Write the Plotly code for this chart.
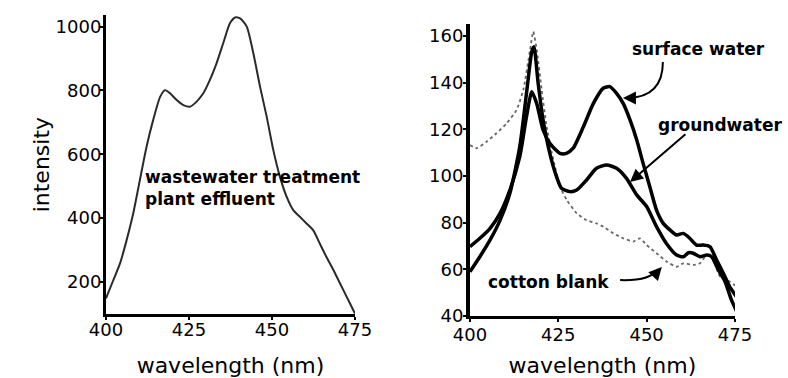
import plotly.graph_objects as go

# ---- wastewater treatment plant effluent (left panel) ----
wwtp_nm = [400, 402.2, 404.2, 406.2, 408.2, 410.2, 412.2, 414.2, 416.3, 417.8, 419.3, 421.3,
           423.3, 425.3, 427.3, 429.3, 431.3, 433.3, 435.3, 437.3, 438.9, 440.4, 442.4, 444.4,
           446.4, 448.4, 450.4, 452.4, 454.4, 456.4, 458.4, 460.4, 462.4, 464.4, 466.4, 468.5,
           470.5, 472.5, 474.5, 475]
wwtp_int = [148, 205, 257, 330, 414, 519, 623, 707, 780, 801, 791, 770,
            754, 749, 765, 791, 833, 885, 948, 1010, 1029, 1026, 1000, 916,
            812, 718, 613, 529, 467, 425, 404, 383, 362, 320, 278, 237,
            195, 153, 111, 100]

# ---- surface water (right panel) ----
sw_nm = [400, 402.8, 405.7, 408.5, 411.3, 414.1, 416.0, 417.5, 418.9, 420.7, 422.6, 425.5,
         427.3, 429.2, 432.1, 434.9, 437.7, 439.6, 441.5, 443.4, 445.3, 447.2, 449.0, 450.9,
         452.8, 454.7, 456.6, 458.5, 460.4, 462.2, 464.1, 466.0, 467.9, 469.8, 471.7, 473.5, 475.4]
sw_int = [69.7, 73.3, 77.6, 84.0, 94.0, 108.3, 125.4, 136.1, 131.0, 119.7, 114.0, 109.7,
          109.7, 111.9, 121.1, 131.0, 137.6, 138.3, 135.4, 131.0, 124.0, 115.4, 105.4, 95.4,
          85.4, 79.7, 76.9, 74.7, 75.4, 73.3, 70.4, 70.4, 69.7, 64.0, 58.3, 52.6, 48.3]

# ---- groundwater ----
gw_nm = [400, 402.8, 405.7, 408.5, 411.3, 414.1, 416.0, 417.5, 418.1, 419.3, 420.7, 422.6,
         424.5, 425.9, 428.3, 430.2, 433.0, 435.8, 438.7, 441.5, 444.3, 447.2, 450.0, 452.8,
         455.6, 458.5, 460.4, 461.8, 463.2, 465.1, 467.0, 468.4, 470.3, 472.2, 474.0, 475.5]
gw_int = [59.0, 65.4, 72.6, 81.0, 92.6, 112.6, 135.4, 153.3, 155.4, 139.7, 124.0, 109.7,
          99.7, 94.7, 93.3, 94.0, 98.3, 103.3, 104.7, 103.3, 99.0, 91.9, 86.9, 78.3,
          71.1, 66.1, 65.4, 67.1, 66.9, 65.4, 66.1, 65.4, 59.7, 54.7, 46.9, 41.9]

# ---- cotton blank ----
cb_nm = [400, 401.9, 404.7, 407.5, 410.4, 413.2, 415.1, 417.0, 417.9, 418.9, 420.3, 421.7,
         423.6, 425.5, 427.4, 430.2, 433.0, 435.8, 437.7, 440.6, 443.4, 446.2, 448.1, 450.0,
         452.8, 455.7, 458.5, 460.4, 463.2, 465.1, 467.0, 468.4, 470.8, 473.6, 476.0]
cb_int = [113.3, 111.9, 114.7, 118.3, 122.6, 128.3, 136.9, 154.0, 161.9, 154.0, 136.9, 121.1,
          106.9, 95.4, 89.7, 84.0, 81.1, 79.7, 78.3, 75.4, 73.3, 71.9, 73.3, 70.4,
          66.9, 63.3, 61.1, 62.6, 61.9, 62.6, 66.1, 65.4, 56.9, 54.7, 51.9]

x_ticks = [400, 425, 450, 475]
left_y_ticks = [200, 400, 600, 800, 1000]
right_y_ticks = [40, 60, 80, 100, 120, 140, 160]

FONT = "DejaVu Sans"

fig = go.Figure()
fig.add_trace(go.Scatter(x=wwtp_nm, y=wwtp_int, mode="lines", xaxis="x", yaxis="y",
                         line=dict(color="#2a2a2a", width=2, shape="spline", smoothing=0.6)))
fig.add_trace(go.Scatter(x=cb_nm, y=cb_int, mode="lines", xaxis="x2", yaxis="y2",
                         line=dict(color="#666666", width=1.8, dash="dot", shape="spline", smoothing=0.5)))
fig.add_trace(go.Scatter(x=sw_nm, y=sw_int, mode="lines", xaxis="x2", yaxis="y2",
                         line=dict(color="black", width=3.5, shape="spline", smoothing=0.6)))
fig.add_trace(go.Scatter(x=gw_nm, y=gw_int, mode="lines", xaxis="x2", yaxis="y2",
                         line=dict(color="black", width=3.5, shape="spline", smoothing=0.6)))

axis_common = dict(showgrid=False, zeroline=False, showline=True, linecolor="black",
                   ticks="outside", tickcolor="black", tickwidth=2, ticklen=3,
                   automargin=False,
                   tickfont=dict(family=FONT, size=18, color="black"))

fig.update_layout(
    width=788, height=378,
    margin=dict(l=0, r=0, t=0, b=0),
    paper_bgcolor="white", plot_bgcolor="white",
    showlegend=False,
    xaxis=dict(domain=[0.1345, 0.4505], range=[400, 475], tickvals=x_ticks,
               linewidth=3, anchor="y", ticklabelstandoff=-5,
               title=dict(text="wavelength (nm)", font=dict(family=FONT, size=22, color="black"),
                          standoff=28),
               **axis_common),
    yaxis=dict(domain=[0.170, 0.959], range=[100, 1035], tickvals=left_y_ticks,
               linewidth=3, anchor="x", ticklabelstandoff=-5,
               title=dict(text="intensity", font=dict(family=FONT, size=22, color="black"),
                          standoff=0),
               **axis_common),
    xaxis2=dict(domain=[0.5964, 0.9327], range=[400, 475], tickvals=x_ticks,
                linewidth=3, anchor="y2", ticklabelstandoff=-3,
                title=dict(text="wavelength (nm)", font=dict(family=FONT, size=22, color="black"),
                           standoff=24),
                **axis_common),
    yaxis2=dict(domain=[0.164, 0.9357], range=[40, 165], tickvals=right_y_ticks,
                linewidth=4, anchor="x2", ticklabelstandoff=-4,
                **axis_common),
)

label_font = dict(family="DejaVu Sans", size=17, color="black", weight="bold")

# text labels
fig.add_annotation(x=411.1, y=495, xref="x", yref="y", text="wastewater treatment<br>plant effluent",
                   showarrow=False, xanchor="left", yanchor="middle", align="left", font=label_font)
fig.add_annotation(x=464.8, y=154.4, xref="x2", yref="y2", text="surface water",
                   showarrow=False, xanchor="center", yanchor="middle", font=label_font)
fig.add_annotation(x=470.9, y=121.9, xref="x2", yref="y2", text="groundwater",
                   showarrow=False, xanchor="center", yanchor="middle", font=label_font)
fig.add_annotation(x=422.2, y=54.6, xref="x2", yref="y2", text="cotton blank",
                   showarrow=False, xanchor="center", yanchor="middle", font=label_font)

# curved leader for "surface water"
fig.add_shape(type="path", xref="x2", yref="y2",
              path="M 454.6,148.9 Q 454.6,133.9 444.6,133.4",
              line=dict(color="black", width=2))
fig.add_annotation(x=443.3, y=133.4, xref="x2", yref="y2", text="", showarrow=True,
                   ax=14, ay=0, arrowhead=2, arrowsize=1.3, arrowwidth=2, arrowcolor="black")

# straight leader for "groundwater"
fig.add_annotation(x=445.3, y=97.4, xref="x2", yref="y2", axref="x2", ayref="y2",
                   ax=461.4, ay=118.4, text="", showarrow=True,
                   arrowhead=2, arrowsize=1.3, arrowwidth=2, arrowcolor="black")

# curved leader for "cotton blank"
fig.add_shape(type="path", xref="x2", yref="y2",
              path="M 442.5,55.4 Q 450.9,55.0 453.3,60.0",
              line=dict(color="black", width=2))
fig.add_annotation(x=454.3, y=61.0, xref="x2", yref="y2", text="", showarrow=True,
                   ax=-9, ay=10, arrowhead=2, arrowsize=1.3, arrowwidth=2, arrowcolor="black")

fig.write_html("out.html")
